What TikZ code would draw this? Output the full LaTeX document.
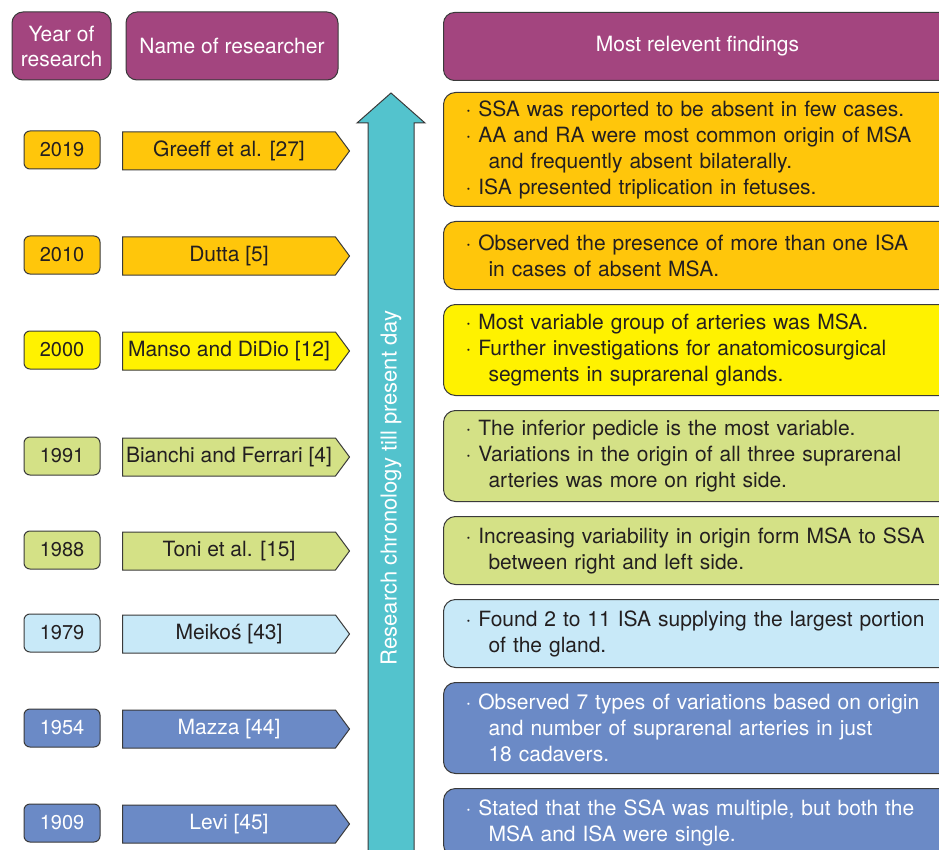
\documentclass[tikz,border=0pt]{standalone}
\usepackage{fontspec}
\setmainfont{TeX Gyre Heros}
\usetikzlibrary{shapes.symbols}
\definecolor{hdr}{HTML}{A3457F}
\definecolor{orng}{HTML}{FFC60B}
\definecolor{yllw}{HTML}{FFF200}
\definecolor{grn}{HTML}{D4E186}
\definecolor{lblu}{HTML}{C8E9F8}
\definecolor{dblu}{HTML}{6B8AC6}
\definecolor{cyn}{HTML}{53C3CD}
\definecolor{ink}{HTML}{231F20}
\definecolor{edge}{HTML}{3A3A3A}
\tikzstyle{headbox} = [rectangle, rounded corners=11pt, draw=edge, line width=1pt, fill=hdr, text=white, minimum height=68pt, inner sep=0pt, align=center, font=\fontsize{21}{25}\selectfont]
\tikzstyle{yearbox} = [rectangle, rounded corners=6pt, draw=edge, line width=1pt, minimum width=76pt, minimum height=38pt, inner sep=0pt, text=ink, font=\fontsize{20}{24}\selectfont]
\tikzstyle{namebox} = [signal, signal to=east, signal pointer angle=107, draw=edge, line width=1pt, minimum width=227pt, minimum height=38pt, inner sep=0pt, text=ink, font=\fontsize{21}{25}\selectfont]
\tikzstyle{findbox} = [rectangle, rounded corners=12pt, draw=edge, line width=1pt, anchor=north west, text width=500pt, inner xsep=22pt, inner ysep=0pt, align=left, text=ink, font=\fontsize{21}{26}\selectfont]
\tikzstyle{chrono} = [draw=edge, line width=1pt, fill=cyn]
\newcommand{\ind}{\hspace*{23pt}}

\begin{document}
\begin{tikzpicture}[x=1pt, y=-1pt]
	\useasboundingbox (0,0) rectangle (939,850);%
	% headers
	\node [headbox, minimum width=99pt] (hyear) at (61.5,46) {Year of\\research};
	\node [headbox, minimum width=212pt] (hname) at (232,46) {Name of researcher};
	\node [headbox, minimum width=508pt, anchor=north west] (hfind) at (443,12) {Most relevent findings};
	% time arrow
	\draw [chrono] (368,870) -- (368,123) -- (357,123) -- (391,93) -- (425,123) -- (414,123) -- (414,870) -- cycle;
	\node [rotate=90, text=white, font=\fontsize{22}{26}\selectfont] (chronotext) at (391,488) {Research chronology till present day};
	% 2019
	\node [yearbox, fill=orng] (y19) at (62,150) {2019};
	\node [namebox, fill=orng] (n19) at (229,151) {Greeff et al. [27]};
	\node [findbox, fill=orng, minimum height=114pt] (f19) at (443,92) {· SSA was reported to be absent in few cases.\\· AA and RA were most common origin of MSA\\\ind and frequently absent bilaterally.\\· ISA presented triplication in fetuses.};
	% 2010
	\node [yearbox, fill=orng] (y10) at (62,255) {2010};
	\node [namebox, fill=orng] (n10) at (229,256) {Dutta [5]};
	\node [findbox, fill=orng, minimum height=68pt] (f10) at (443,221) {· Observed the presence of more than one ISA\\\ind in cases of absent MSA.};
	% 2000
	\node [yearbox, fill=yllw] (y00) at (62,350) {2000};
	\node [namebox, fill=yllw] (n00) at (229,351) {Manso and DiDio [12]};
	\node [findbox, fill=yllw, minimum height=91pt] (f00) at (443,304) {· Most variable group of arteries was MSA.\\· Further investigations for anatomicosurgical\\\ind segments in suprarenal glands.};
	% 1991
	\node [yearbox, fill=grn] (y91) at (62,456) {1991};
	\node [namebox, fill=grn] (n91) at (229,457) {Bianchi and Ferrari [4]};
	\node [findbox, fill=grn, minimum height=91pt] (f91) at (443,410) {· The inferior pedicle is the most variable.\\· Variations in the origin of all three suprarenal\\\ind arteries was more on right side.};
	% 1988
	\node [yearbox, fill=grn] (y88) at (62,550) {1988};
	\node [namebox, fill=grn] (n88) at (229,551) {Toni et al. [15]};
	\node [findbox, fill=grn, minimum height=68pt] (f88) at (443,516) {· Increasing variability in origin form MSA to SSA\\\ind between right and left side.};
	% 1979
	\node [yearbox, fill=lblu] (y79) at (62,633) {1979};
	\node [namebox, fill=lblu] (n79) at (229,634) {Meiko\'s [43]};
	\node [findbox, fill=lblu, minimum height=68pt] (f79) at (443,599) {· Found 2 to 11 ISA supplying the largest portion\\\ind of the gland.};
	% 1954
	\node [yearbox, fill=dblu, text=white] (y54) at (62,728) {1954};
	\node [namebox, fill=dblu, text=white] (n54) at (229,729) {Mazza [44]};
	\node [findbox, fill=dblu, text=white, minimum height=91pt] (f54) at (443,682) {· Observed 7 types of variations based on origin\\\ind and number of suprarenal arteries in just\\\ind 18 cadavers.};
	% 1909
	\node [yearbox, fill=dblu, text=white] (y09) at (62,823) {1909};
	\node [namebox, fill=dblu, text=white] (n09) at (229,824) {Levi [45]};
	\node [findbox, fill=dblu, text=white, minimum height=68pt] (f09) at (443,788) {· Stated that the SSA was multiple, but both the\\\ind MSA and ISA were single.};
\end{tikzpicture}
\end{document}
